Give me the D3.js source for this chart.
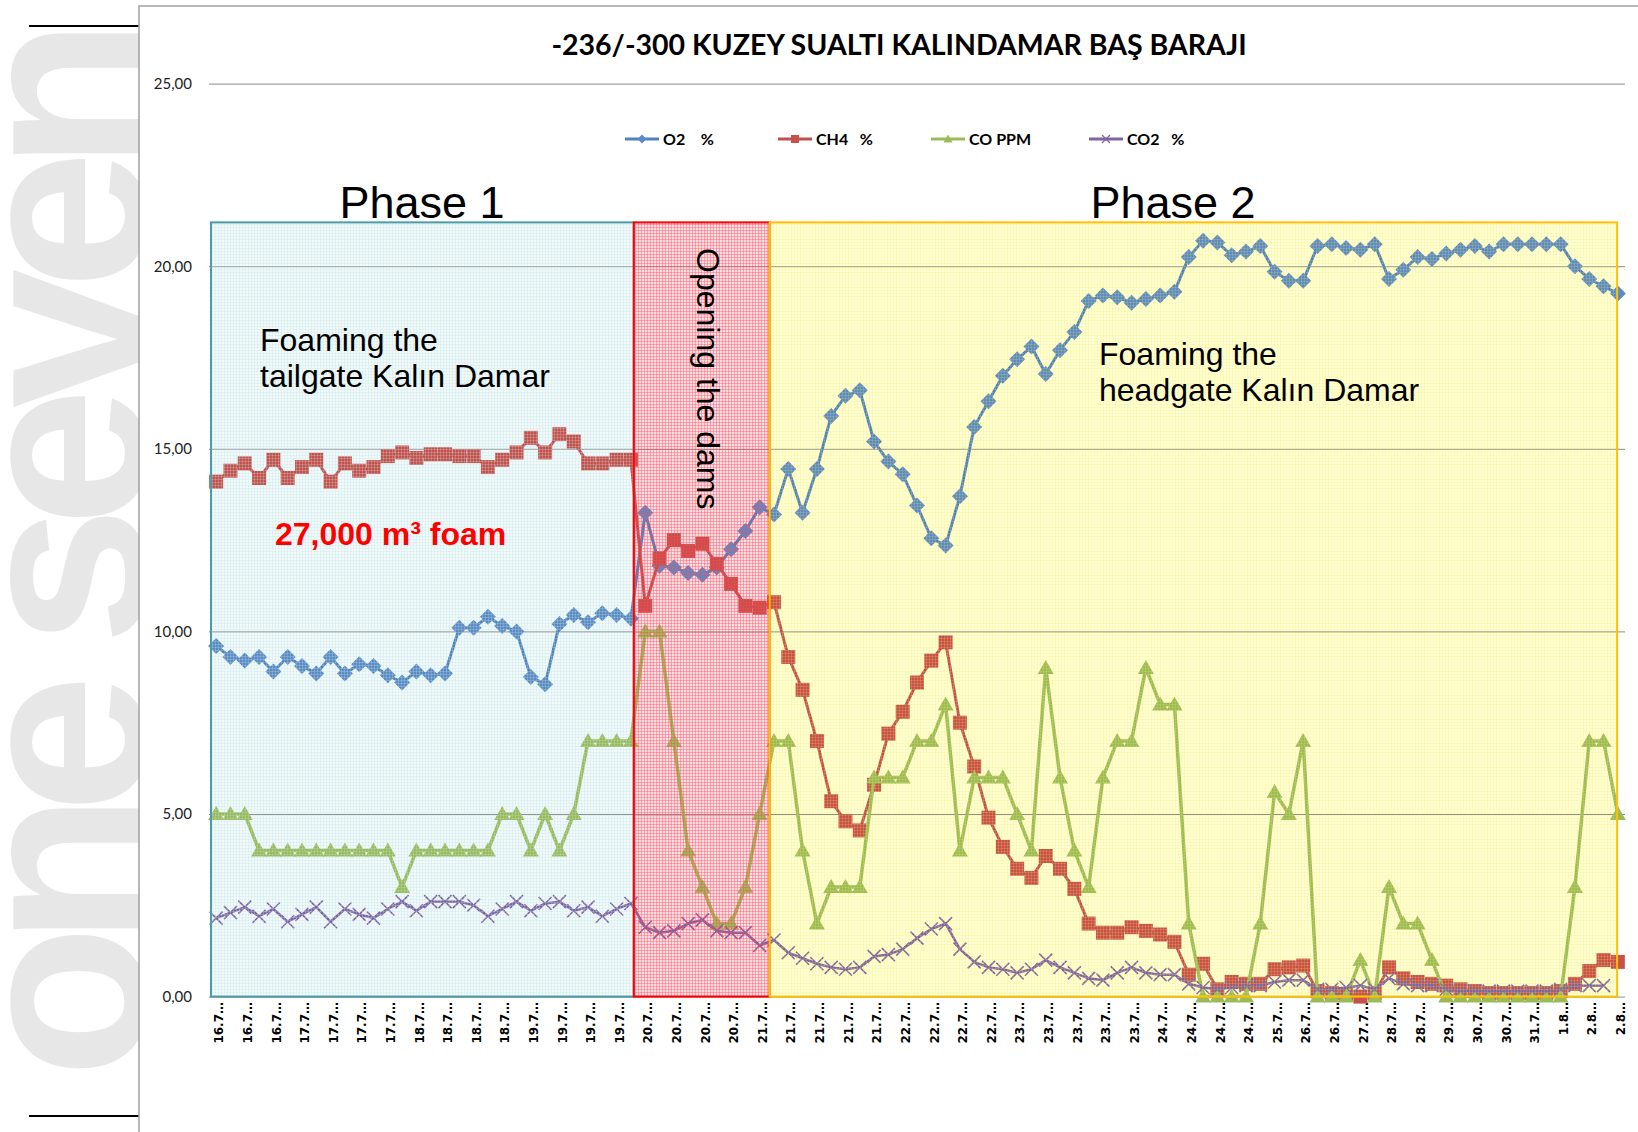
<!DOCTYPE html>
<html>
<head>
<meta charset="utf-8">
<title>-236/-300 KUZEY SUALTI KALINDAMAR BAŞ BARAJI</title>
<script src="https://cdn.jsdelivr.net/npm/d3@7"></script>
<style>
  body { margin: 0; background: #fff; }
  svg { display: block; }
  .title { font-family: Lato, "Open Sans", sans-serif; font-weight: bold; font-size: 28.5px; }
  .ylab text { font-family: Lato, sans-serif; font-size: 15px; fill: #222; }
  .xlab { font-family: "DejaVu Sans", Verdana, sans-serif; font-weight: bold; font-size: 12px; }
  .legend text { font-family: Lato, sans-serif; font-weight: bold; font-size: 16px; white-space: pre; }
  .note { font-family: "Liberation Sans", Arial, sans-serif; }
</style>
</head>
<body>
<script>

  // ---- data (one value per reading, 99 readings) ----
  var o2 = [
    9.6, 9.3, 9.2, 9.3, 8.9, 9.3, 9.05, 8.85, 9.3, 8.85, 9.1, 9.05, 8.8, 8.6, 8.9, 8.8, 8.85, 10.1, 10.1, 10.4,
    10.15, 10.0, 8.75, 8.55, 10.2, 10.45, 10.25, 10.5, 10.45, 10.35,
    13.25, 11.8, 11.75, 11.6, 11.55, 11.75, 12.25, 12.75, 13.4,
    13.2, 14.45, 13.25, 14.45, 15.9, 16.45, 16.6, 15.2, 14.65, 14.3, 13.45, 12.55, 12.35, 13.7, 15.6, 16.3,
    17.0, 17.45, 17.8, 17.05, 17.7, 18.2, 19.05, 19.2, 19.15, 19.0, 19.1, 19.2, 19.3, 20.25, 20.7,
    20.65, 20.3, 20.4, 20.55, 19.85, 19.6, 19.6, 20.55, 20.6, 20.5, 20.45, 20.6, 19.65, 19.9, 20.25,
    20.2, 20.35, 20.45, 20.55, 20.4, 20.6, 20.6, 20.6, 20.6, 20.6, 20.0, 19.65, 19.45, 19.25
  ];
  var ch4 = [
    14.1, 14.4, 14.6, 14.2, 14.7, 14.2, 14.5, 14.7, 14.1, 14.6, 14.4, 14.5, 14.8, 14.9, 14.75, 14.85, 14.85, 14.8, 14.8, 14.5,
    14.7, 14.9, 15.3, 14.9, 15.4, 15.2, 14.6, 14.6, 14.7, 14.7,
    10.7, 12.0, 12.5, 12.2, 12.4, 11.85, 11.3, 10.7, 10.65,
    10.8, 9.3, 8.4, 7.0, 5.35, 4.8, 4.55, 5.8, 7.2, 7.8, 8.6, 9.2, 9.7, 7.5, 6.3, 4.9,
    4.1, 3.5, 3.25, 3.85, 3.5, 2.95, 2.0, 1.75, 1.75, 1.9, 1.8, 1.7, 1.5, 0.6, 0.9,
    0.2, 0.4, 0.35, 0.35, 0.75, 0.8, 0.85, 0.15, 0.1, 0.05, 0.0, 0.1, 0.8, 0.5, 0.4,
    0.35, 0.3, 0.2, 0.15, 0.1, 0.1, 0.1, 0.1, 0.1, 0.15, 0.35, 0.7, 1.0, 0.95
  ];
  var co = [
    5, 5, 5, 4, 4, 4, 4, 4, 4, 4, 4, 4, 4, 3, 4, 4, 4, 4, 4, 4,
    5, 5, 4, 5, 4, 5, 7, 7, 7, 7,
    10, 10, 7, 4, 3, 2, 2, 3, 5,
    7, 7, 4, 2, 3, 3, 3, 6, 6, 6, 7, 7, 8, 4, 6, 6,
    6, 5, 4, 9, 6, 4, 3, 6, 7, 7, 9, 8, 8, 2, 0,
    0, 0, 0, 2, 5.6, 5, 7, 0, 0, 0, 1, 0, 3, 2, 2,
    1, 0, 0, 0, 0, 0, 0, 0, 0, 0, 3, 7, 7, 5
  ];
  var co2 = [
    2.15, 2.3, 2.45, 2.2, 2.4, 2.05, 2.25, 2.45, 2.05, 2.4, 2.25, 2.15, 2.4, 2.6, 2.35, 2.6, 2.6, 2.6, 2.5, 2.2,
    2.4, 2.6, 2.35, 2.55, 2.6, 2.35, 2.45, 2.2, 2.4, 2.55,
    1.9, 1.75, 1.8, 2.0, 2.1, 1.8, 1.75, 1.75, 1.4,
    1.55, 1.2, 1.05, 0.9, 0.8, 0.75, 0.8, 1.1, 1.15, 1.3, 1.6, 1.85, 2.0, 1.3, 0.95, 0.8,
    0.75, 0.65, 0.75, 1.0, 0.8, 0.65, 0.5, 0.45, 0.65, 0.8, 0.65, 0.6, 0.6, 0.35, 0.25,
    0.2, 0.25, 0.3, 0.3, 0.4, 0.45, 0.45, 0.2, 0.2, 0.25, 0.3, 0.2, 0.5, 0.35, 0.3,
    0.3, 0.2, 0.15, 0.15, 0.15, 0.15, 0.15, 0.15, 0.15, 0.2, 0.3, 0.3, 0.3
  ];
  // labels shown under every second reading
  var tickLabels = [
    "16.7", "16.7", "16.7", "17.7", "17.7", "17.7", "17.7", "18.7", "18.7", "18.7",
    "18.7", "19.7", "19.7", "19.7", "19.7", "20.7", "20.7", "20.7", "20.7", "21.7",
    "21.7", "21.7", "21.7", "21.7", "22.7", "22.7", "22.7", "22.7", "23.7", "23.7",
    "23.7", "23.7", "23.7", "24.7", "24.7", "24.7", "24.7", "25.7", "26.7", "26.7",
    "27.7", "28.7", "28.7", "29.7", "30.7", "30.7", "31.7", "1.8", "2.8", "2.8"
  ];
  var yTicks = [0, 5, 10, 15, 20, 25];
  var seriesNames = ["O2    %", "CH4   %", "CO PPM", "CO2   %"];

  var width = 1638, height = 1132;
  var plotLeft = 209, plotRight = 1625;

  var x = d3.scalePoint()
    .domain(d3.range(o2.length))
    .range([plotLeft, plotRight])
    .padding(0.5);
  var step = x.step();

  var y = d3.scaleLinear()
    .domain([0, 25])
    .range([996.6, 83.6]);

  var svg = d3.select("body").append("svg")
    .attr("width", width)
    .attr("height", height);

  var defs = svg.append("defs");
  function gridPattern(id, color) {
    var p = defs.append("pattern")
      .attr("id", id)
      .attr("width", 3).attr("height", 3)
      .attr("patternUnits", "userSpaceOnUse");
    p.append("path")
      .attr("d", "M2.5,0V3M0,2.5H3")
      .attr("stroke", color)
      .attr("stroke-width", 1)
      .attr("fill", "none");
  }
  gridPattern("gridTeal", "rgba(185,222,228,0.28)");
  gridPattern("gridRed", "rgba(255,70,90,0.40)");
  gridPattern("gridYellow", "rgba(240,232,90,0.2)");

  // watermark at the left edge
  svg.append("text")
    .attr("transform", "translate(146,1078) rotate(-90)")
    .attr("font-family", "'Liberation Sans', Arial, sans-serif")
    .attr("font-weight", "bold")
    .attr("font-size", 250)
    .attr("textLength", 1060)
    .attr("lengthAdjust", "spacing")
    .attr("fill", "#e7e7e7")
    .text("one seven");

  svg.append("line").attr("x1", 29).attr("x2", 139).attr("y1", 26).attr("y2", 26)
    .attr("stroke", "#000").attr("stroke-width", 2);
  svg.append("line").attr("x1", 29).attr("x2", 139).attr("y1", 1116).attr("y2", 1116)
    .attr("stroke", "#000").attr("stroke-width", 2);

  // chart frame
  svg.append("rect")
    .attr("x", 139).attr("y", 6)
    .attr("width", 1520).attr("height", 1140)
    .attr("fill", "#fff")
    .attr("stroke", "#a0a0a0")
    .attr("stroke-width", 1.5);

  // phase boxes, in reading-index units
  var boxTop = 21.2;
  var phases = [
    { from: -0.36, to: 29.2, fill: "#f2f9fa", grid: "url(#gridTeal)", stroke: "#4a9ca8" },
    { from: 29.2, to: 38.7, fill: "#fde0e4", grid: "url(#gridRed)", stroke: "#ff0000" },
    { from: 38.7, to: 97.95, fill: "#ffffd6", grid: "url(#gridYellow)", stroke: "#ffc000" }
  ];
  function px(i) { return x(0) + i * step; }

  svg.append("g").selectAll("rect")
    .data(phases)
    .join("rect")
    .attr("x", d => px(d.from))
    .attr("y", y(boxTop))
    .attr("width", d => px(d.to) - px(d.from))
    .attr("height", y(0) - y(boxTop))
    .attr("fill", d => d.fill);

  // y gridlines and labels
  var yAxis = svg.append("g")
    .attr("class", "ylab")
    .attr("transform", `translate(${plotLeft},0)`)
    .call(d3.axisLeft(y)
      .tickValues(yTicks)
      .tickSize(-(plotRight - plotLeft))
      .tickPadding(17)
      .tickFormat(d => d3.format(".2f")(d).replace(".", ",")));
  yAxis.select(".domain").remove();
  yAxis.selectAll(".tick line").attr("stroke", "#8a8a8a").attr("stroke-width", 1);

  // x labels
  svg.append("g")
    .selectAll("text")
    .data(tickLabels)
    .join("text")
    .attr("class", "xlab")
    .attr("transform", (d, k) => `translate(${x(k * 2) + 3},1002) rotate(-90)`)
    .attr("dy", "0.35em")
    .attr("text-anchor", "end")
    .text(d => d + "…");

  var line = d3.line()
    .x((d, i) => x(i))
    .y(d => y(d));

  var symbols = {
    diamond: "M0,-8L8,0L0,8L-8,0Z",
    square: "M-7,-7H7V7H-7Z",
    triangle: "M0,-8L8,6H-8Z",
    cross: "M-6.5,-6.5L6.5,6.5M6.5,-6.5L-6.5,6.5"
  };
  var smallSymbols = {
    diamond: "M0,-4.5L4.5,0L0,4.5L-4.5,0Z",
    square: "M-4,-4H4V4H-4Z",
    triangle: "M0,-4.5L4.5,3.5H-4.5Z",
    cross: "M-4,-4L4,4M4,-4L-4,4"
  };

  var series = [
    { name: seriesNames[0], values: o2, color: "#4f81bd", mark: "#5b8ac4", symbol: "diamond", width: 3 },
    { name: seriesNames[1], values: ch4, color: "#c0504d", mark: "#c8504a", symbol: "square", width: 3 },
    { name: seriesNames[2], values: co, color: "#9bbb59", mark: "#9bbb59", symbol: "triangle", width: 3.5 },
    { name: seriesNames[3], values: co2, color: "#8064a2", mark: "#8064a2", symbol: "cross", width: 2.5 }
  ];

  series.forEach(function(s) {
    var g = svg.append("g");
    g.append("path")
      .datum(s.values)
      .attr("fill", "none")
      .attr("stroke", s.color)
      .attr("stroke-width", s.width)
      .attr("stroke-linejoin", "round")
      .attr("d", line);
    g.selectAll("path.mk")
      .data(s.values)
      .join("path")
      .attr("class", "mk")
      .attr("transform", (d, i) => `translate(${x(i)},${y(d)})`)
      .attr("d", symbols[s.symbol])
      .attr("fill", s.symbol === "cross" ? "none" : s.mark)
      .attr("stroke", s.symbol === "cross" ? s.mark : "none")
      .attr("stroke-width", 1.6);
  });

  // textured overlay and borders of the phase boxes (drawn over the series)
  svg.append("g").selectAll("rect")
    .data(phases)
    .join("rect")
    .attr("x", d => px(d.from))
    .attr("y", y(boxTop))
    .attr("width", d => px(d.to) - px(d.from))
    .attr("height", y(0) - y(boxTop))
    .attr("fill", d => d.grid)
    .attr("stroke", d => d.stroke)
    .attr("stroke-width", 2);

  // title
  svg.append("text")
    .attr("class", "title")
    .attr("x", 899).attr("y", 55)
    .attr("text-anchor", "middle")
    .text("-236/-300 KUZEY SUALTI KALINDAMAR BAŞ BARAJI");

  // legend
  var legendX = [625, 778, 931, 1089];
  var legend = svg.append("g").attr("class", "legend");
  series.forEach(function(s, k) {
    var g = legend.append("g").attr("transform", `translate(${legendX[k]},139)`);
    g.append("line").attr("x1", 0).attr("x2", 34)
      .attr("stroke", s.color).attr("stroke-width", 3);
    g.append("path").attr("transform", "translate(17,0)")
      .attr("d", smallSymbols[s.symbol])
      .attr("fill", s.symbol === "cross" ? "none" : s.mark)
      .attr("stroke", s.symbol === "cross" ? s.mark : "none")
      .attr("stroke-width", 1.2);
    g.append("text").attr("x", 38).attr("dy", "0.35em").text(s.name);
  });

  // annotations
  function note(txt, xp, yp, size, opts) {
    opts = opts || {};
    return svg.append("text")
      .attr("class", "note")
      .attr("x", xp).attr("y", yp)
      .attr("font-size", size)
      .attr("font-weight", opts.bold ? "bold" : null)
      .attr("fill", opts.fill || "#000")
      .attr("text-anchor", opts.anchor || "start")
      .text(txt);
  }
  note("Phase 1", 422, 218, 45, { anchor: "middle" });
  note("Phase 2", 1173, 218, 45, { anchor: "middle" });
  note("Foaming the", 260, 351, 32);
  note("tailgate Kalın Damar", 260, 387, 32);
  note("Foaming the", 1099, 365, 32);
  note("headgate Kalın Damar", 1099, 401, 32);
  note("27,000 m³ foam", 275, 545, 32, { bold: true, fill: "#ff0000" });

  svg.append("text")
    .attr("class", "note")
    .attr("transform", "translate(697,248) rotate(90)")
    .attr("font-size", 32)
    .text("Opening the dams");

</script>
</body>
</html>
